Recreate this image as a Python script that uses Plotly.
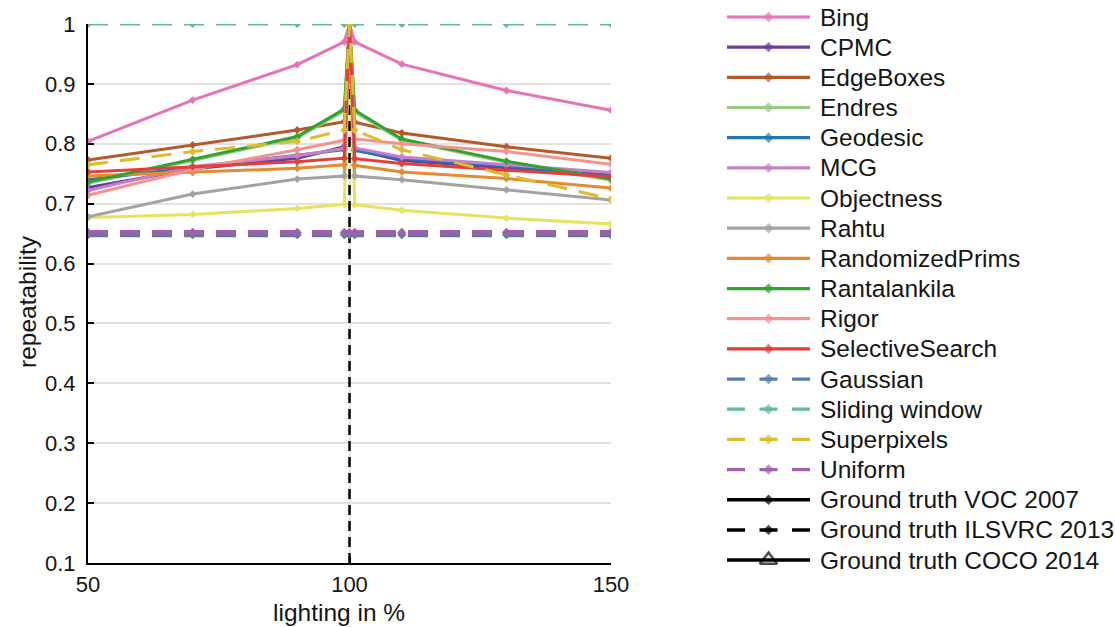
import plotly.graph_objects as go

# Lighting levels (% of original brightness)
lighting = [50, 70, 90, 99, 100, 101, 110, 130, 150]

# Repeatability per proposal method
bing = [0.804, 0.873, 0.932, 0.970, 1.0, 0.970, 0.933, 0.889, 0.856]
cpmc = [0.727, 0.758, 0.776, 0.795, 1.0, 0.790, 0.772, 0.760, 0.748]
edgeboxes = [0.773, 0.798, 0.823, 0.837, 1.0, 0.836, 0.818, 0.795, 0.776]
endres = [0.734, 0.772, 0.810, 0.855, 1.0, 0.853, 0.806, 0.769, 0.739]
geodesic = [0.740, 0.760, 0.781, 0.790, 1.0, 0.789, 0.776, 0.763, 0.745]
mcg = [0.722, 0.762, 0.780, 0.792, 1.0, 0.793, 0.778, 0.765, 0.752]
objectness = [0.677, 0.682, 0.692, 0.699, 1.0, 0.698, 0.689, 0.676, 0.666]
rahtu = [0.678, 0.716, 0.741, 0.746, 1.0, 0.746, 0.740, 0.723, 0.706]
randomized_prims = [0.746, 0.752, 0.759, 0.765, 1.0, 0.764, 0.753, 0.742, 0.726]
rantalankila = [0.736, 0.774, 0.812, 0.858, 1.0, 0.856, 0.808, 0.771, 0.741]
rigor = [0.714, 0.757, 0.790, 0.806, 1.0, 0.808, 0.800, 0.787, 0.766]
selective_search = [0.753, 0.762, 0.770, 0.776, 1.0, 0.775, 0.767, 0.756, 0.745]
gaussian = [0.648, 0.648, 0.648, 0.648, 0.648, 0.648, 0.648, 0.648, 0.648]
sliding_window = [1.0, 1.0, 1.0, 1.0, 1.0, 1.0, 1.0, 1.0, 1.0]
superpixels = [0.765, 0.787, 0.804, 0.823, 1.0, 0.823, 0.790, 0.748, 0.708]
uniform = [0.652, 0.652, 0.652, 0.652, 0.652, 0.652, 0.652, 0.652, 0.652]

# Ground-truth reference (only defined at the unmodified image)
gt_x = [100, 100]
gt_y = [0.1, 1.0]

method_names = ["Bing", "CPMC", "EdgeBoxes", "Endres", "Geodesic", "MCG",
                "Objectness", "Rahtu", "RandomizedPrims", "Rantalankila",
                "Rigor", "SelectiveSearch", "Gaussian", "Sliding window",
                "Superpixels", "Uniform"]
method_values = [bing, cpmc, edgeboxes, endres, geodesic, mcg, objectness,
                 rahtu, randomized_prims, rantalankila, rigor,
                 selective_search, gaussian, sliding_window, superpixels,
                 uniform]
method_colors = ["#e872b8", "#6b3fa0", "#b5582a", "#92cc7e", "#2277b6",
                 "#c481c9", "#e6e35c", "#a3a3a3", "#e58a31", "#35a131",
                 "#f7918f", "#e23f38", "#4f80ad", "#62b8a3", "#dcbd2c",
                 "#9b62a6"]
method_dashed = [False] * 12 + [True] * 4
gt_names = ["Ground truth VOC 2007", "Ground truth ILSVRC 2013",
            "Ground truth COCO 2014"]

W, H = 1115, 627
ML, MR, MT, MB = 88, 5, 5, 64
PW = W - ML - MR
PH = H - MT - MB

FONT = "Liberation Sans, Arial, Helvetica, sans-serif"
TEXT = "#151515"

fig = go.Figure()

# Ground-truth vertical line (drawn first so the curves sit over it)
fig.add_trace(go.Scatter(
    x=gt_x, y=gt_y, mode="lines",
    line=dict(color="black", width=2.5, dash="10px,6px"),
    showlegend=False, hoverinfo="skip"))

for name, vals, col, dashed in zip(method_names, method_values,
                                   method_colors, method_dashed):
    thick = name in ("Gaussian", "Uniform")
    fig.add_trace(go.Scatter(
        x=lighting, y=vals, mode="lines+markers", name=name,
        line=dict(color=col, width=5 if thick else 3,
                  dash="20px,12px" if dashed else "solid"),
        marker=dict(color=col, size=7 if thick else 6, symbol="diamond"),
        showlegend=False))

# Hand-built legend on its own invisible axes
legend_names = method_names + gt_names
legend_colors = method_colors + ["black", "black", "black"]
legend_dashed = method_dashed + [False, True, False]
legend_symbols = ["diamond"] * 18 + ["triangle-up-open"]
row_y = [17 + 30.17 * i for i in range(len(legend_names))]

for name, col, dashed, sym, yy in zip(legend_names, legend_colors,
                                      legend_dashed, legend_symbols, row_y):
    is_tri = sym.startswith("triangle")
    fig.add_trace(go.Scatter(
        x=[0, 0.5, 1], y=[yy, yy, yy], xaxis="x2", yaxis="y2",
        mode="lines+markers",
        line=dict(color=col, width=3.5 if col == "black" else 3.2,
                  dash="18px,14.5px" if dashed else "solid"),
        marker=dict(color=col, size=[0, 15 if is_tri else 8, 0], symbol=sym,
                    line=dict(color=col, width=2.5 if is_tri else 0)),
        showlegend=False, hoverinfo="skip", cliponaxis=False))
    fig.add_annotation(
        x=(818 - ML) / PW, xref="paper", y=yy, yref="y2",
        text=name, showarrow=False, xanchor="left", yanchor="middle",
        font=dict(family=FONT, size=24.5, color=TEXT))

y_top = (563 - 24) / PH
x_right = (611 - ML) / PW

y_ticks = [0.1, 0.2, 0.3, 0.4, 0.5, 0.6, 0.7, 0.8, 0.9, 1.0]
y_tick_text = ["0.1", "0.2", "0.3", "0.4", "0.5", "0.6", "0.7", "0.8",
               "0.9", "1"]
x_ticks = [50, 100, 150]

fig.update_layout(
    width=W, height=H,
    margin=dict(l=ML, r=MR, t=MT, b=MB, autoexpand=False),
    paper_bgcolor="white", plot_bgcolor="white",
    font=dict(family=FONT, color=TEXT),
    showlegend=False,
    xaxis=dict(domain=[0, x_right], range=[50, 150], tickvals=x_ticks,
               ticks="inside", ticklen=6, tickwidth=1.5, tickcolor="black",
               showline=True, linecolor="black", linewidth=2,
               showgrid=True, gridcolor="#e2e2e2", gridwidth=1.5,
               zeroline=False, tickfont=dict(size=22),
               ticklabelstandoff=1, automargin=False),
    yaxis=dict(domain=[0, y_top], range=[0.1, 1.0], tickvals=y_ticks,
               ticktext=y_tick_text,
               ticks="inside", ticklen=6, tickwidth=1.5, tickcolor="black",
               showline=True, linecolor="black", linewidth=2,
               showgrid=True, gridcolor="#e2e2e2", gridwidth=1.5,
               zeroline=False, tickfont=dict(size=22),
               ticklabelstandoff=6, automargin=False),
    xaxis2=dict(domain=[(727 - ML) / PW, (810 - ML) / PW], range=[0, 1],
                visible=False, anchor="y2", automargin=False),
    yaxis2=dict(domain=[0, 1], range=[MT + PH, MT], visible=False,
                anchor="x2", automargin=False),
)

# Axis titles
fig.add_annotation(x=(339 - ML) / PW, xref="paper", y=(563 - 612) / PH,
                   yref="paper", text="lighting in %", showarrow=False,
                   font=dict(size=24.5), xanchor="center", yanchor="middle")
fig.add_annotation(x=(27 - ML) / PW, xref="paper", y=(563 - 302) / PH,
                   yref="paper", text="repeatability", showarrow=False,
                   textangle=-90, font=dict(size=24.5),
                   xanchor="center", yanchor="middle")

fig.write_html("out.html")
